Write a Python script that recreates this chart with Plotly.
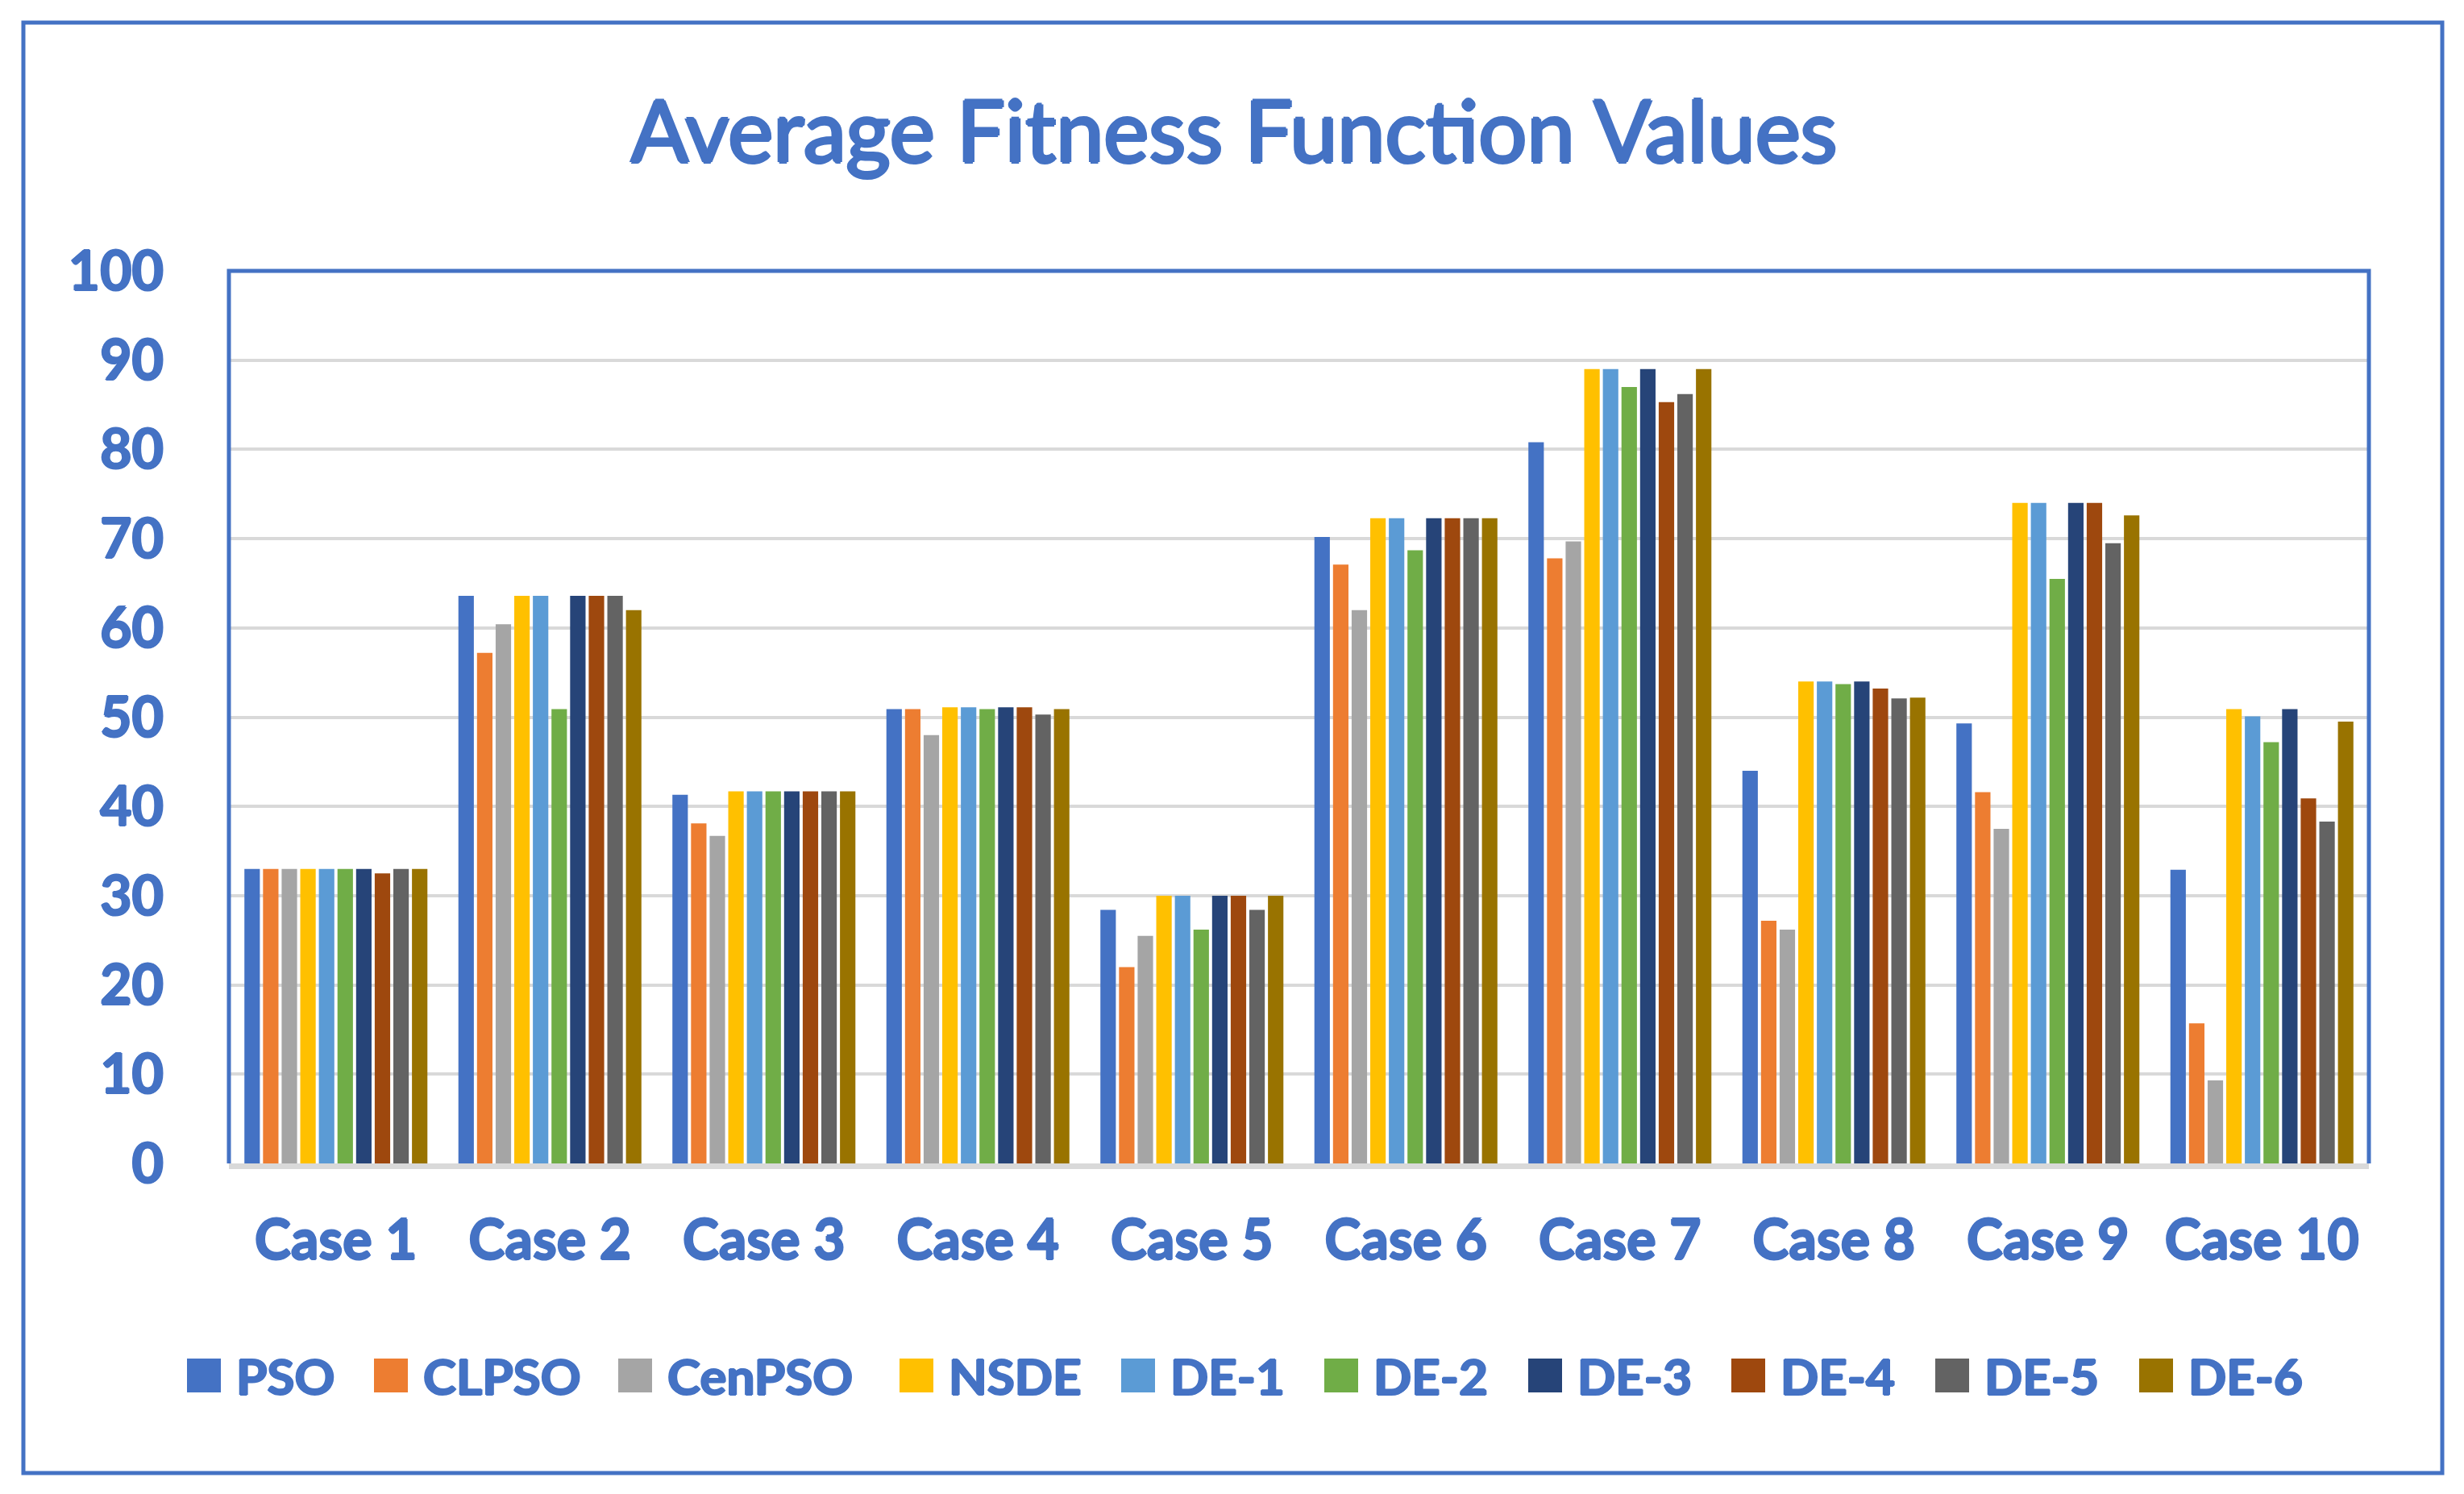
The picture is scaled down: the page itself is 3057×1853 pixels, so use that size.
import plotly.graph_objects as go

# ---------------- data ----------------
cases = ["Case 1", "Case 2", "Case 3", "Case 4", "Case 5",
         "Case 6", "Case 7", "Case 8", "Case 9", "Case 10"]

PSO    = [33.0, 63.6, 41.3, 50.9, 28.4, 70.2, 80.8, 44.0, 49.3, 32.9]
CLPSO  = [33.0, 57.2, 38.1, 50.9, 22.0, 67.1, 67.8, 27.2, 41.6, 15.7]
CenPSO = [33.0, 60.4, 36.7, 48.0, 25.5, 62.0, 69.7, 26.2, 37.5, 9.3]
NSDE   = [33.0, 63.6, 41.7, 51.1, 30.0, 72.3, 89.0, 54.0, 74.0, 50.9]
DE1    = [33.0, 63.6, 41.7, 51.1, 30.0, 72.3, 89.0, 54.0, 74.0, 50.1]
DE2    = [33.0, 50.9, 41.7, 50.9, 26.2, 68.7, 87.0, 53.7, 65.5, 47.2]
DE3    = [33.0, 63.6, 41.7, 51.1, 30.0, 72.3, 89.0, 54.0, 74.0, 50.9]
DE4    = [32.5, 63.6, 41.7, 51.1, 30.0, 72.3, 85.3, 53.2, 74.0, 40.9]
DE5    = [33.0, 63.6, 41.7, 50.3, 28.4, 72.3, 86.2, 52.1, 69.5, 38.3]
DE6    = [33.0, 62.0, 41.7, 50.9, 30.0, 72.3, 89.0, 52.2, 72.6, 49.5]

series_names = ["PSO", "CLPSO", "CenPSO", "NSDE", "DE-1",
                "DE-2", "DE-3", "DE-4", "DE-5", "DE-6"]
series_values = [PSO, CLPSO, CenPSO, NSDE, DE1, DE2, DE3, DE4, DE5, DE6]
colors = ["#4472C4", "#ED7D31", "#A5A5A5", "#FFC000", "#5B9BD5",
          "#70AD47", "#264478", "#9E480E", "#636363", "#997300"]

y_ticks = [0, 10, 20, 30, 40, 50, 60, 70, 80, 90, 100]

# ---------------- layout geometry (page pixels) ----------------
OFF = 8                      # default page body margin
W, H = 3057 - 2 * OFF, 1853 - 2 * OFF
PL, PR, PT, PB = 284, 2939, 336, 1443   # plot area edges on the page
PW, PH = PR - PL, PB - PT
BLUE = "#4472C4"
GRID = "#D9D9D9"
THICK = "1.2px 0 0 #4472C4, -1.2px 0 0 #4472C4, 0 1.2px 0 #4472C4, 0 -1.2px 0 #4472C4"
TITLE_SH = "2px 0 0 #4472C4, -2px 0 0 #4472C4, 0 2px 0 #4472C4, 0 -2px 0 #4472C4"


def px(xp):
    return (xp - PL) / PW


def py(yp):
    return (PB - yp) / PH


fig = go.Figure()
for name, vals, col in zip(series_names, series_values, colors):
    fig.add_trace(go.Bar(name=name, x=cases, y=vals, marker_color=col,
                         marker_line_width=0, showlegend=False))

fig.update_layout(
    width=W, height=H,
    margin=dict(l=PL - OFF, r=W - (PR - OFF), t=PT - OFF, b=H - (PB - OFF), pad=0),
    paper_bgcolor="white", plot_bgcolor="white",
    barmode="group", bargap=0.13, bargroupgap=0.17,
    title=dict(text="Average Fitness Function Values",
               x=(1531 - OFF) / W, xref="container", xanchor="center",
               y=1 - (164 - OFF) / H, yref="container", yanchor="middle",
               font=dict(family="Lato", size=106, color=BLUE, shadow=TITLE_SH)),
    font=dict(family="Lato", color=BLUE),
)

fig.update_yaxes(range=[0, 100], tickvals=y_ticks, ticktext=[str(v) for v in y_ticks],
                 showgrid=True, gridcolor=GRID, gridwidth=4,
                 zeroline=False, showline=False, ticks="",
                 ticklabelstandoff=80,
                 tickfont=dict(family="Lato", size=68, color=BLUE, weight="bold",
                               shadow=THICK))
fig.update_xaxes(showline=True, linecolor=GRID, linewidth=7, ticks="",
                 showgrid=False, ticklabelstandoff=30,
                 tickfont=dict(family="Lato", size=68, color=BLUE, weight="bold",
                               shadow=THICK))

shapes = []
# blue frame of plot area (left, top, right)
shapes.append(dict(type="path", xref="paper", yref="paper",
                   path="M 0 0 L 0 1 L 1 1 L 1 0",
                   line=dict(color=BLUE, width=5), layer="above"))
# outer border
shapes.append(dict(type="rect", xref="paper", yref="paper",
                   x0=px(29), x1=px(3030), y0=py(1827), y1=py(28),
                   line=dict(color=BLUE, width=5), fillcolor="rgba(0,0,0,0)",
                   layer="above"))

# manual legend (large square swatches)
legend_sq_left = [232, 464, 767, 1116, 1391, 1643, 1896, 2148, 2401, 2654]
SQ = 42
LEG_Y = 1706
annotations = []
for name, col, xl in zip(series_names, colors, legend_sq_left):
    shapes.append(dict(type="rect", xref="paper", yref="paper",
                       x0=px(xl), x1=px(xl + SQ),
                       y0=py(LEG_Y + SQ / 2), y1=py(LEG_Y - SQ / 2),
                       fillcolor=col, line=dict(width=0)))
    annotations.append(dict(xref="paper", yref="paper",
                            x=px(xl + SQ + 17), y=py(LEG_Y),
                            xanchor="left", yanchor="middle",
                            text=name, showarrow=False,
                            font=dict(family="Lato", size=62, color=BLUE,
                                      weight="bold", shadow=THICK)))

fig.update_layout(shapes=shapes, annotations=annotations)

fig.write_html("out.html")
